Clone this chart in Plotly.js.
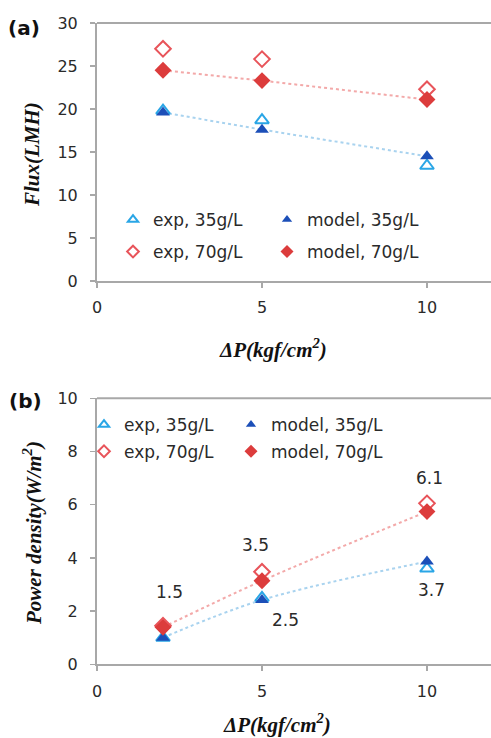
<!DOCTYPE html>
<html><head><meta charset="utf-8">
<script src="https://cdn.plot.ly/plotly-3.0.1.min.js"></script>
<style>html,body{margin:0;padding:0;background:#fff}#chart{width:491px;height:738px}</style>
</head><body><div id="chart"></div>
<script>
// ---- data ----
const pressure = [2, 5, 10];
const fluxExp35 = [19.8, 18.7, 13.4];
const fluxModel35 = [19.6, 17.6, 14.5];
const fluxExp70 = [27.0, 25.8, 22.3];
const fluxModel70 = [24.5, 23.3, 21.1];
const powExp35 = [1.0, 2.5, 3.6];
const powModel35 = [1.0, 2.42, 3.86];
const powExp70 = [1.45, 3.48, 6.05];
const powModel70 = [1.39, 3.14, 5.74];
const powLabels = ['1.5', '3.5', '6.1', '2.5', '3.7'];
const seriesNames = ['exp, 35g/L', 'model, 35g/L', 'exp, 70g/L', 'model, 70g/L'];
const xTicks = [0, 5, 10];

// ---- styles ----
const txt = '#2a2a2a';
const sans = 'DejaVu Sans, Liberation Sans, Arial, sans-serif';
const serif = 'Liberation Serif, Times New Roman, serif';
const axisCol = '#a8a8a8';
const blueLine = '#a9d3ef', redLine = '#f3a9a9';
const cExp35 = '#2aa6e6', cMod35 = '#1c4fb8', cExp70 = '#e8545a', cMod70 = '#dc3c3c';
function mk(kind, sz) {
  if (kind === 0) return {symbol: 'triangle-up-open', color: cExp35, size: sz, line: {width: 2, color: cExp35}};
  if (kind === 1) return {symbol: 'triangle-up', color: cMod35, size: sz};
  if (kind === 2) return {symbol: 'diamond-open', color: cExp70, size: sz, line: {width: 2, color: cExp70}};
  return {symbol: 'diamond', color: cMod70, size: sz + 1};
}

function panel(xa, ya, series, shape, legIds) {
  const tr = [
    {x: pressure, y: series[3], xaxis: xa, yaxis: ya, mode: 'lines', line: {color: redLine, width: 2, dash: 'dot', shape: shape}, showlegend: false, hoverinfo: 'skip'},
    {x: pressure, y: series[1], xaxis: xa, yaxis: ya, mode: 'lines', line: {color: blueLine, width: 2, dash: 'dot', shape: shape}, showlegend: false, hoverinfo: 'skip'}
  ];
  series.forEach((s, k) => tr.push({x: pressure, y: s, xaxis: xa, yaxis: ya, mode: 'markers', name: seriesNames[k], marker: mk(k, 12), showlegend: false}));
  // legend entries (no points of their own)
  series.forEach((s, k) => tr.push({x: [null], y: [null], xaxis: xa, yaxis: ya, mode: 'markers', name: seriesNames[k], marker: mk(k, 9), legend: legIds[k], showlegend: true}));
  return tr;
}

const data = [].concat(
  panel('x', 'y', [fluxExp35, fluxModel35, fluxExp70, fluxModel70], 'linear', ['legend', 'legend2', 'legend3', 'legend4']),
  panel('x2', 'y2', [powExp35, powModel35, powExp70, powModel70], 'spline', ['legend5', 'legend6', 'legend7', 'legend8'])
);

const W = 491, H = 738, L = 97;
const px = p => (p - L) / (W - L);
const py = p => 1 - p / H;

function axisX(anchor) {
  return {anchor: anchor, domain: [0, 1], range: [0, 11.94], tickvals: xTicks, showline: true, linecolor: axisCol, linewidth: 2,
    ticks: 'outside', ticklen: 5, tickwidth: 1.5, tickcolor: axisCol, showgrid: false, zeroline: false,
    tickfont: {family: sans, size: 16, color: txt}, ticklabelstandoff: 6, fixedrange: true};
}
function axisY(anchor, dom, rng, dt) {
  return {anchor: anchor, domain: dom, range: rng, dtick: dt, tick0: 0, showline: true, linecolor: axisCol, linewidth: 2,
    ticks: 'outside', ticklen: 5, tickwidth: 1.5, tickcolor: axisCol, showgrid: false, zeroline: false,
    tickfont: {family: sans, size: 16, color: txt}, ticklabelstandoff: 9, fixedrange: true};
}
function leg(xp, yp) {
  return {x: px(xp), y: py(yp), xanchor: 'left', yanchor: 'middle', orientation: 'v',
    font: {family: sans, size: 17, color: txt}, bgcolor: 'rgba(0,0,0,0)', borderwidth: 0, itemclick: false, itemdoubleclick: false};
}

const annPos = [[2.21, 2.73], [4.79, 4.48], [10.09, 7.0], [5.7, 1.67], [10.15, 2.79]];
function paperAnn(text, x, y, font, angle) {
  return {text: text, x: px(x), y: py(y), xref: 'paper', yref: 'paper', xanchor: 'center', yanchor: 'middle', showarrow: false, textangle: angle || 0, font: font};
}
const fLabel = {family: sans, size: 20, color: '#111'};
const fTitle = {family: serif, size: 21, color: '#111'};
const annotations = [
  paperAnn('<b>(a)</b>', 24, 28, fLabel),
  paperAnn('<b>(b)</b>', 25, 401, fLabel),
  paperAnn('<b><i>Flux(LMH)</i></b>', 32, 155, fTitle, -90),
  paperAnn('<b><i>Power density(W/m<sup>2</sup>)</i></b>', 32, 533, fTitle, -90),
  paperAnn('<b><i>ΔP(kgf/cm<sup>2</sup>)</i></b>', 273, 348, fTitle),
  paperAnn('<b><i>ΔP(kgf/cm<sup>2</sup>)</i></b>', 277, 723, fTitle)
];
powLabels.forEach((t, i) => annotations.push({text: t, x: annPos[i][0], y: annPos[i][1], xref: 'x2', yref: 'y2', xanchor: 'center', yanchor: 'middle', showarrow: false,
  font: {family: sans, size: 17, color: txt}}));

const layout = {
  width: W, height: H, margin: {l: L, r: 0, t: 0, b: 0}, paper_bgcolor: '#fff', plot_bgcolor: '#fff',
  xaxis: axisX('y'), yaxis: axisY('x', [py(281), py(23)], [0, 30], 5),
  xaxis2: axisX('y2'), yaxis2: axisY('x2', [py(664.3), py(398.3)], [0, 10], 2),
  legend: leg(113, 220), legend2: leg(267, 220), legend3: leg(113, 252), legend4: leg(267, 252),
  legend5: leg(84, 425), legend6: leg(231, 425), legend7: leg(84, 451.7), legend8: leg(231, 451.7),
  annotations: annotations,
  shapes: [
    {type: 'line', xref: 'paper', yref: 'y domain', x0: 0, x1: 1, y0: 1, y1: 1, line: {color: axisCol, width: 2}},
    {type: 'line', xref: 'paper', yref: 'y2 domain', x0: 0, x1: 1, y0: 1, y1: 1, line: {color: axisCol, width: 2}}
  ],
  showlegend: true
};

Plotly.newPlot('chart', data, layout, {displayModeBar: false, staticPlot: true});
</script></body></html>
